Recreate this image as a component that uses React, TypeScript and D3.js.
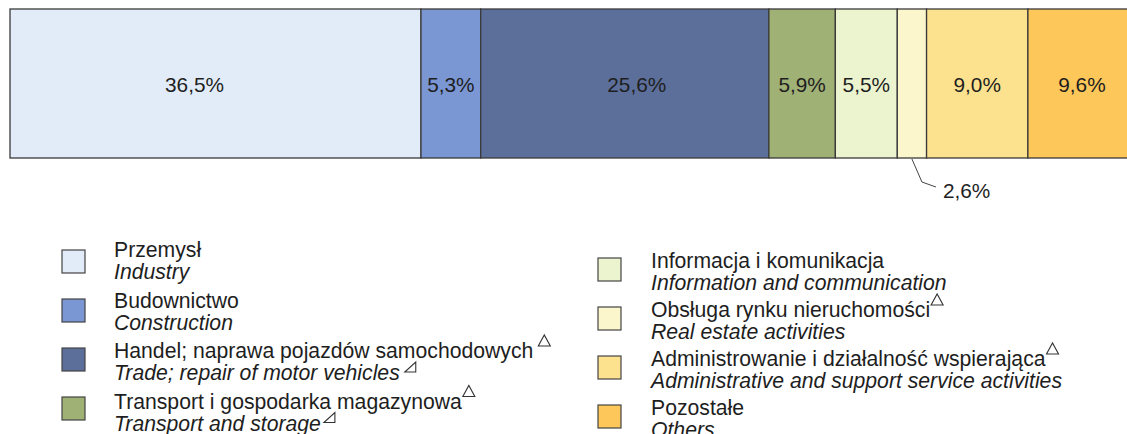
import React, { useEffect, useRef } from "react";
import * as d3 from "d3";

const categoriesPl = [
  "Przemysł",
  "Budownictwo",
  "Handel; naprawa pojazdów samochodowych",
  "Transport i gospodarka magazynowa",
  "Informacja i komunikacja",
  "Obsługa rynku nieruchomości",
  "Administrowanie i działalność wspierająca",
  "Pozostałe",
];
const categoriesEn = [
  "Industry",
  "Construction",
  "Trade; repair of motor vehicles",
  "Transport and storage",
  "Information and communication",
  "Real estate activities",
  "Administrative and support service activities",
  "Others",
];
const values = [36.5, 5.3, 25.6, 5.9, 5.5, 2.6, 9.0, 9.6];
const plMark = [false, false, true, true, false, true, true, false];
const enMark = [false, false, true, true, false, false, false, false];
const colors = ["#E2ECF8", "#7B97D3", "#5C6F9A", "#A0B176", "#EBF4CF", "#FBF6CC", "#FCE28E", "#FDC75A"];

const fmt = (v: number) => v.toFixed(1).replace(".", ",") + "%";

export default function App() {
  const ref = useRef<SVGSVGElement>(null);
  useEffect(() => {
    const svg = d3.select(ref.current);
    svg.selectAll("*").remove();
    const W = 1127;
    const x = d3.scaleLinear().domain([0, 100]).range([10, 1136]);
    const y0 = 9, y1 = 158;
    const cum = d3.cumsum(values);
    const starts = values.map((v, i) => cum[i] - v);
    const font = "'Liberation Sans', Arial, sans-serif";
    const labelDx = [-21, 0, 12, 0, 0, 0, 0, 0];
    const idx = values.map((_, i) => i);

    const g = svg.append("g");
    g.selectAll("rect.seg")
      .data(idx)
      .join("rect")
      .attr("x", (i) => x(starts[i]))
      .attr("y", y0)
      .attr("width", (i) => x(cum[i]) - x(starts[i]))
      .attr("height", y1 - y0)
      .attr("fill", (i) => colors[i])
      .attr("stroke", "#3a3a3a")
      .attr("stroke-width", 1.3);

    g.selectAll("text.lbl")
      .data(idx.filter((i) => values[i] > 3))
      .join("text")
      .attr("x", (i) => (x(starts[i]) + x(cum[i])) / 2 + labelDx[i])
      .attr("y", 92)
      .attr("text-anchor", "middle")
      .attr("font-family", font)
      .attr("font-size", 20.8)
      .attr("fill", "#1e1e1e")
      .text((i) => fmt(values[i]));

    // callout for small segment
    const si = values.findIndex((v) => v <= 3);
    const sx = (x(starts[si]) + x(cum[si])) / 2;
    g.append("path")
      .attr("d", `M${sx},${y1 + 1}L${sx + 10},${y1 + 24}L${sx + 24},${y1 + 29}`)
      .attr("fill", "none")
      .attr("stroke", "#444")
      .attr("stroke-width", 1);
    g.append("text")
      .attr("x", sx + 31)
      .attr("y", y1 + 40)
      .attr("font-family", font)
      .attr("font-size", 20.8)
      .attr("fill", "#1e1e1e")
      .text(fmt(values[si]));

    // legend
    const upTri = (px: number, by: number) =>
      `M${px},${by}L${px + 12},${by}L${px + 6},${by - 11}Z`;
    const rightTri = (px: number, by: number) =>
      `M${px},${by}L${px + 11},${by}L${px + 11},${by - 10}Z`;

    categoriesPl.forEach((pl, i) => {
      const col = i < 4 ? 0 : 1;
      const r = i % 4;
      const sxw = col === 0 ? 62 : 598;
      const sy = col === 0 ? 250 + 49 * r : 258 + 49 * r;
      const tx = col === 0 ? 114 : 651;
      const b1 = col === 0 ? 257 + 50.5 * r : 268 + 49 * r;
      const b2 = b1 + 22;
      g.append("rect")
        .attr("x", sxw)
        .attr("y", sy)
        .attr("width", 23)
        .attr("height", 23)
        .attr("fill", colors[i])
        .attr("stroke", "#444")
        .attr("stroke-width", 1.2);
      const t1 = g.append("text")
        .attr("x", tx)
        .attr("y", b1)
        .attr("font-family", font)
        .attr("font-size", 21.2)
        .attr("fill", "#1e1e1e")
        .text(pl);
      const t2 = g.append("text")
        .attr("x", tx)
        .attr("y", b2)
        .attr("font-family", font)
        .attr("font-size", 21.2)
        .attr("font-style", "italic")
        .attr("fill", "#1e1e1e")
        .text(categoriesEn[i]);
      if (plMark[i]) {
        const w = (t1.node() as SVGTextElement).getComputedTextLength();
        const gap = i === 2 ? 5 : 1;
        g.append("path")
          .attr("d", upTri(tx + w + gap, b1 - 12))
          .attr("fill", "none")
          .attr("stroke", "#333")
          .attr("stroke-width", 1.1);
      }
      if (enMark[i]) {
        const w = (t2.node() as SVGTextElement).getComputedTextLength();
        const gap = i === 2 ? 5 : 3;
        g.append("path")
          .attr("d", rightTri(tx + w + gap, b2 - 8))
          .attr("fill", "none")
          .attr("stroke", "#333")
          .attr("stroke-width", 1.1);
      }
    });
    svg.attr("width", W).attr("height", 434);
  }, []);
  return (
    <svg
      ref={ref}
      width={1127}
      height={434}
      style={{ position: "absolute", left: 0, top: 0, background: "#fff" }}
    />
  );
}
